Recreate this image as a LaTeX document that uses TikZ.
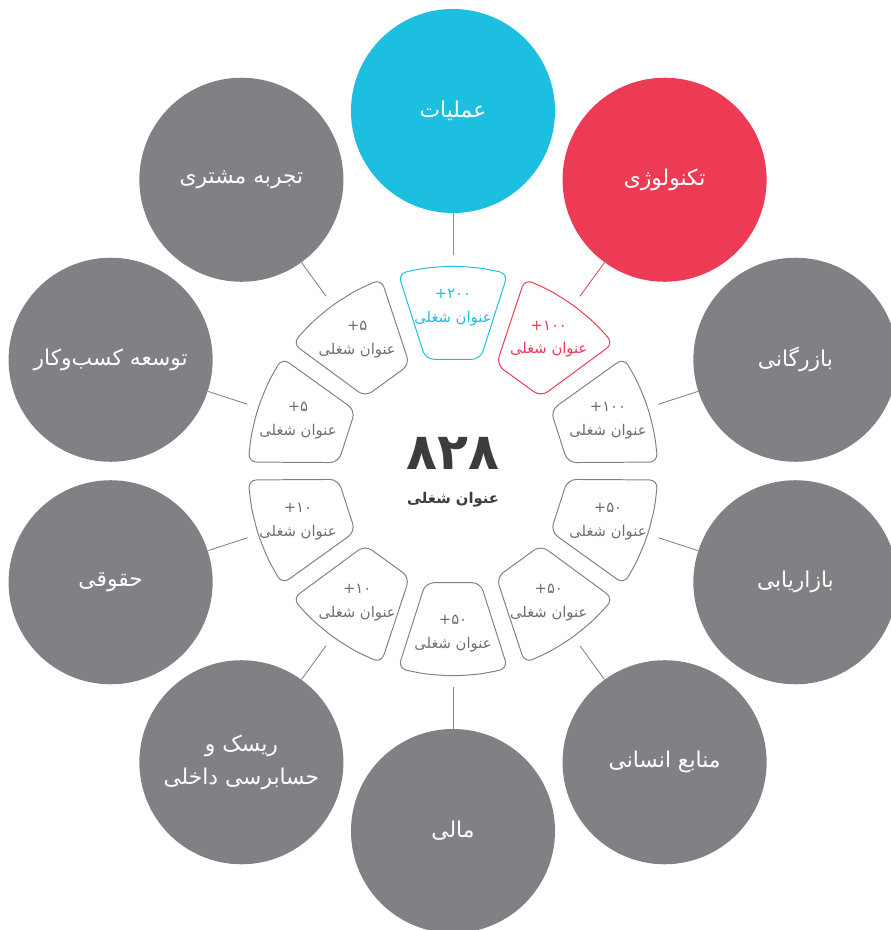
\documentclass[tikz,border=0pt]{standalone}
\usepackage{fontspec}
\setmainfont{DejaVu Sans}
\newfontfamily\farsi[Script=Arabic]{DejaVu Sans}
\TeXXeTstate=1
\usetikzlibrary{calc}

\definecolor{unitgray}{HTML}{808185}
\definecolor{opscyan}{HTML}{1CBFE0}
\definecolor{techred}{HTML}{EE3B55}
\definecolor{jobgray}{HTML}{6D6E71}
\definecolor{totalgray}{HTML}{3C3C3E}

% right-to-left run
\newcommand{\fa}[1]{{\farsi\beginR #1\endR}}
% one rounded piece of the ring, centred on angle #1
\newcommand{\jobsector}[2]{%
  \draw[#2,line width=0.7pt,rounded corners=6pt]
    ($(#1-13.8:115)!0.5!(#1-15.5:205)$) -- (#1-15.5:205)
    -- (#1-7.75:205) -- (#1:205) -- (#1+7.75:205) -- (#1+15.5:205)
    -- (#1+13.8:115) -- (#1-13.8:115) -- cycle;}

\begin{document}
\begin{tikzpicture}[x=0.025cm,y=0.025cm,
    unit/.style={circle,fill=unitgray,minimum size=5.1cm,inner sep=0pt,
                 text=white,font=\farsi\fontsize{15.5}{23}\selectfont,align=center},
    job/.style={text=jobgray,font=\fontsize{10.5}{17}\selectfont,align=center},
    link/.style={draw=unitgray,line width=0.6pt}]
  \useasboundingbox (-453,-459) rectangle (438,471);

  % departments
  \node[unit,fill=opscyan] (ops)    at (90:360)   {\fa{عملیات}};
  \node[unit,fill=techred] (tech)   at (54:360)   {\fa{تکنولوژی}};
  \node[unit]              (trade)  at (18:360)   {\fa{بازرگانی}};
  \node[unit]              (mkt)    at (-18:360)  {\fa{بازاریابی}};
  \node[unit]              (hr)     at (-54:360)  {\fa{منابع انسانی}};
  \node[unit]              (fin)    at (-90:360)  {\fa{مالی}};
  \node[unit]              (risk)   at (-126:360) {\fa{ریسک و}\\\fa{حسابرسی داخلی}};
  \node[unit]              (legal)  at (-162:360) {\fa{حقوقی}};
  \node[unit]              (bizdev) at (162:360)  {\fa{توسعه کسب^^^^200cوکار}};
  \node[unit]              (cx)     at (126:360)  {\fa{تجربه مشتری}};

  % inner ring
  \jobsector{90}{opscyan}
  \jobsector{54}{techred}
  \jobsector{18}{unitgray}
  \jobsector{-18}{unitgray}
  \jobsector{-54}{unitgray}
  \jobsector{-90}{unitgray}
  \jobsector{-126}{unitgray}
  \jobsector{-162}{unitgray}
  \jobsector{162}{unitgray}
  \jobsector{126}{unitgray}

  \node[job,text=opscyan] (j-ops)    at (90:163)   {+۲۰۰\\\fa{عنوان شغلی}};
  \node[job,text=techred] (j-tech)   at (54:163)   {+۱۰۰\\\fa{عنوان شغلی}};
  \node[job]              (j-trade)  at (18:163)   {+۱۰۰\\\fa{عنوان شغلی}};
  \node[job]              (j-mkt)    at (-18:163)  {+۵۰\\\fa{عنوان شغلی}};
  \node[job]              (j-hr)     at (-54:163)  {+۵۰\\\fa{عنوان شغلی}};
  \node[job]              (j-fin)    at (-90:163)  {+۵۰\\\fa{عنوان شغلی}};
  \node[job]              (j-risk)   at (-126:163) {+۱۰\\\fa{عنوان شغلی}};
  \node[job]              (j-legal)  at (-162:163) {+۱۰\\\fa{عنوان شغلی}};
  \node[job]              (j-bizdev) at (162:163)  {+۵\\\fa{عنوان شغلی}};
  \node[job]              (j-cx)     at (126:163)  {+۵\\\fa{عنوان شغلی}};

  % total in the middle
  \node[text=totalgray,font=\farsi\bfseries\fontsize{36}{36}\selectfont] (total) at (0,18) {۸۲۸};
  \node[text=totalgray,font=\farsi\bfseries\fontsize{10.5}{12}\selectfont] (title) at (0,-29) {\fa{عنوان شغلی}};

  % spokes
  \coordinate (e-ops)    at (90:216);
  \coordinate (e-tech)   at (54:216);
  \coordinate (e-trade)  at (18:216);
  \coordinate (e-mkt)    at (-18:216);
  \coordinate (e-hr)     at (-54:216);
  \coordinate (e-fin)    at (-90:216);
  \coordinate (e-risk)   at (-126:216);
  \coordinate (e-legal)  at (-162:216);
  \coordinate (e-bizdev) at (162:216);
  \coordinate (e-cx)     at (126:216);

  \path (ops)    edge[link,draw=opscyan] (e-ops)
        (tech)   edge[link,draw=techred] (e-tech)
        (trade)  edge[link]              (e-trade)
        (mkt)    edge[link]              (e-mkt)
        (hr)     edge[link]              (e-hr)
        (fin)    edge[link]              (e-fin)
        (risk)   edge[link]              (e-risk)
        (legal)  edge[link]              (e-legal)
        (bizdev) edge[link]              (e-bizdev)
        (cx)     edge[link]              (e-cx);
\end{tikzpicture}
\end{document}
